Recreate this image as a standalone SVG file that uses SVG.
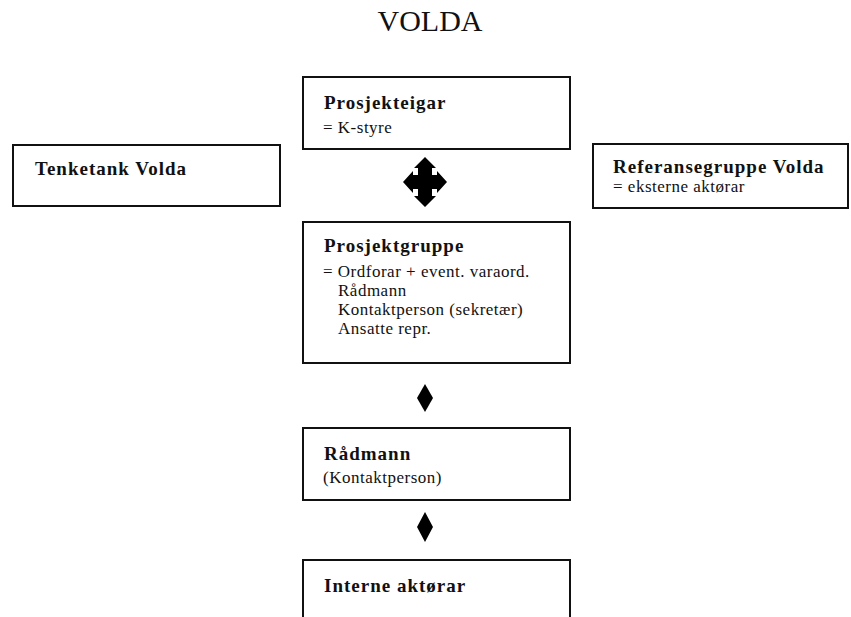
<svg xmlns="http://www.w3.org/2000/svg" width="851" height="617" viewBox="0 0 851 617">
<style>
.box{fill:#fff;stroke:#111;stroke-width:2}
.t{font-family:"Liberation Serif","Times New Roman",serif;fill:#111}
.b{font-size:19px;font-weight:bold;letter-spacing:1px}
.r{font-size:17px;letter-spacing:0.5px}
.sym{fill:#000}
</style>
<rect width="851" height="617" fill="#fff"/>
<text class="t" x="430" y="31" font-size="30" text-anchor="middle">VOLDA</text>
<g id="prosjekteigar">
<rect class="box" x="303" y="77" width="267" height="72"/>
<text class="t b" x="324" y="109">Prosjekteigar</text>
<text class="t r" x="323" y="133">= K-styre</text>
</g>
<g id="tenketank">
<rect class="box" x="13" y="145" width="267" height="61"/>
<text class="t b" x="35" y="175">Tenketank Volda</text>
</g>
<g id="referansegruppe">
<rect class="box" x="593" y="144" width="255" height="64"/>
<text class="t b" x="613" y="173">Referansegruppe Volda</text>
<text class="t r" x="613" y="192" font-size="15">= eksterne aktørar</text>
</g>
<g id="prosjektgruppe">
<rect class="box" x="303" y="222" width="267" height="141"/>
<text class="t b" x="324" y="252">Prosjektgruppe</text>
<text class="t r" x="323" y="277">= Ordforar + event. varaord.</text>
<text class="t r" x="338" y="296">Rådmann</text>
<text class="t r" x="338" y="315">Kontaktperson (sekretær)</text>
<text class="t r" x="338" y="334">Ansatte repr.</text>
</g>
<g id="radmann">
<rect class="box" x="303" y="428" width="267" height="72"/>
<text class="t b" x="324" y="460">Rådmann</text>
<text class="t r" x="323" y="483">(Kontaktperson)</text>
</g>
<g id="interne">
<path class="box" d="M303,620 V560 H570 V620"/>
<text class="t b" x="324" y="592">Interne aktørar</text>
</g>
<g id="connectors">
<polygon class="sym" points="425,157 436,168 432,168 432,175 437,175 437,171 447,182 437,193 437,189 432,189 432,196 436,196 425,207 414,196 418,196 418,189 413,189 413,193 403,182 413,171 413,175 418,175 418,168 414,168"/>
<polygon class="sym" points="425,384 433,398 425,412 417,398"/>
<polygon class="sym" points="425,512 433,527 425,542 417,527"/>
</g>
</svg>
